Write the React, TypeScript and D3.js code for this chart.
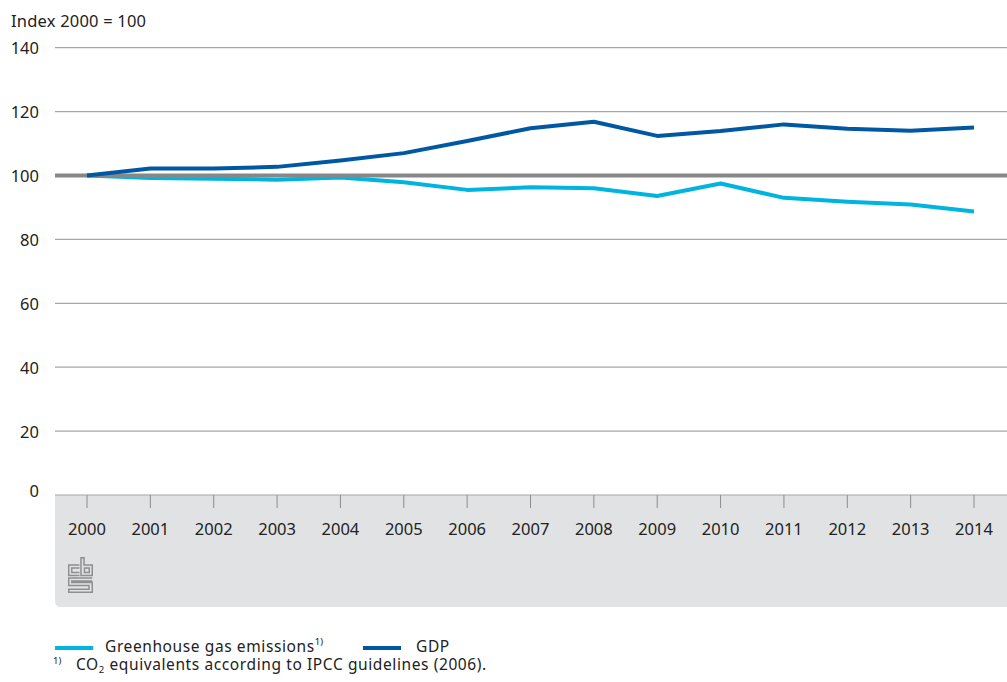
import React from "react";
import * as d3 from "d3";

const years = [2000, 2001, 2002, 2003, 2004, 2005, 2006, 2007, 2008, 2009, 2010, 2011, 2012, 2013, 2014];
const greenhouseGas = [100, 99.2, 99.0, 98.7, 99.4, 97.9, 95.5, 96.3, 96.0, 93.6, 97.5, 93.0, 91.8, 90.9, 88.7];
const gdp = [100, 102.2, 102.2, 102.7, 104.7, 107.0, 110.8, 114.8, 116.8, 112.4, 113.9, 116.0, 114.6, 114.0, 115.0];
const yTicks = [0, 20, 40, 60, 80, 100, 120, 140];

const W = 1007;
const H = 682;
const FONT = "'Noto Sans', sans-serif";
const COLOR_GHG = "#00b4e0";
const COLOR_GDP = "#0058a3";
const TEXT = "#222222";

export default function App() {
  const plotLeft = 55;
  const plotRight = 1007;
  const x = d3.scalePoint<number>().domain(years).range([87, 974]);
  const y = d3.scaleLinear().domain([0, 140]).range([495, 47.7]);

  const line = d3
    .line<number>()
    .x((_, i) => x(years[i]) as number)
    .y((v) => y(v));

  return (
    <svg
      width={W}
      height={H}
      style={{ position: "absolute", left: 0, top: 0, fontFamily: FONT }}
    >
      <rect x={0} y={0} width={W} height={H} fill="#ffffff" />

      {/* axis panel */}
      <path
        d={`M${plotLeft},${y(0)} H${plotRight} V607 H${plotLeft + 6} Q${plotLeft},607 ${plotLeft},601 Z`}
        fill="#e1e2e4"
      />

      {/* title */}
      <text x={11} y={26.5} fontSize={16.5} fill={TEXT} letterSpacing={0.2}>
        Index 2000 = 100
      </text>

      {/* gridlines and y labels */}
      {yTicks.map((t) => (
        <g key={t}>
          {t !== 100 && (
            <line
              x1={plotLeft}
              x2={plotRight}
              y1={y(t)}
              y2={y(t)}
              stroke="#a6a6a6"
              strokeWidth={1.2}
            />
          )}
          <text
            x={39}
            y={y(t) + (t === 0 ? 2 : 6.5)}
            textAnchor="end"
            fontSize={16.5}
            fill={TEXT}
          >
            {t}
          </text>
        </g>
      ))}

      {/* x ticks and labels */}
      {years.map((yr) => (
        <g key={yr}>
          <line
            x1={x(yr)}
            x2={x(yr)}
            y1={y(0)}
            y2={508}
            stroke="#8c8c8c"
            strokeWidth={1}
          />
          <text
            x={x(yr)}
            y={535}
            textAnchor="middle"
            fontSize={16.5}
            fill={TEXT}
          >
            {yr}
          </text>
        </g>
      ))}

      {/* logo */}
      <g
        transform="translate(68,557)"
        fill="none"
        stroke="#8f8f8f"
        strokeWidth={1.5}
      >
        <path d="M11.5,8 H0.75 V18.5 H11.5" />
        <path d="M11.5,11 H3.75 V15.5 H11.5" />
        <path d="M13,0.75 H16 V8 H24.25 V18.5 H13 Z" />
        <rect x={16.5} y={11} width={4.75} height={4.5} />
        <path d="M24.25,21 H0.75 V28.5 H21 V32.25 H0.75 V35.25 H24.25 V25.5 H3.75 V24 H24.25" />
      </g>

      {/* series */}
      <path
        d={line(greenhouseGas) ?? ""}
        fill="none"
        stroke={COLOR_GHG}
        strokeWidth={4}
        strokeLinejoin="round"
      />
      <line
        x1={plotLeft}
        x2={plotRight}
        y1={y(100)}
        y2={y(100)}
        stroke="#878787"
        strokeWidth={4}
      />
      <path
        d={line(gdp) ?? ""}
        fill="none"
        stroke={COLOR_GDP}
        strokeWidth={4}
        strokeLinejoin="round"
      />

      {/* legend */}
      <line x1={55} x2={93} y1={648} y2={648} stroke={COLOR_GHG} strokeWidth={4} />
      <text x={105} y={651.5} fontSize={15.5} fill={TEXT} letterSpacing={0.6}>
        Greenhouse gas emissions
        <tspan fontSize={9.5} dy={-7} letterSpacing={0}>1)</tspan>
      </text>
      <line x1={363} x2={401} y1={648} y2={648} stroke={COLOR_GDP} strokeWidth={4} />
      <text x={416} y={651.5} fontSize={15.5} fill={TEXT} letterSpacing={0.6}>
        GDP
      </text>

      {/* footnote */}
      <text x={53} y={664} fontSize={9.5} fill={TEXT}>
        1)
      </text>
      <text x={76} y={669.5} fontSize={15.5} fill={TEXT} letterSpacing={0.6}>
        CO<tspan fontSize={9.5} dy={3}>2</tspan>
        <tspan dy={-3}> equivalents according to IPCC guidelines (2006).</tspan>
      </text>
    </svg>
  );
}
